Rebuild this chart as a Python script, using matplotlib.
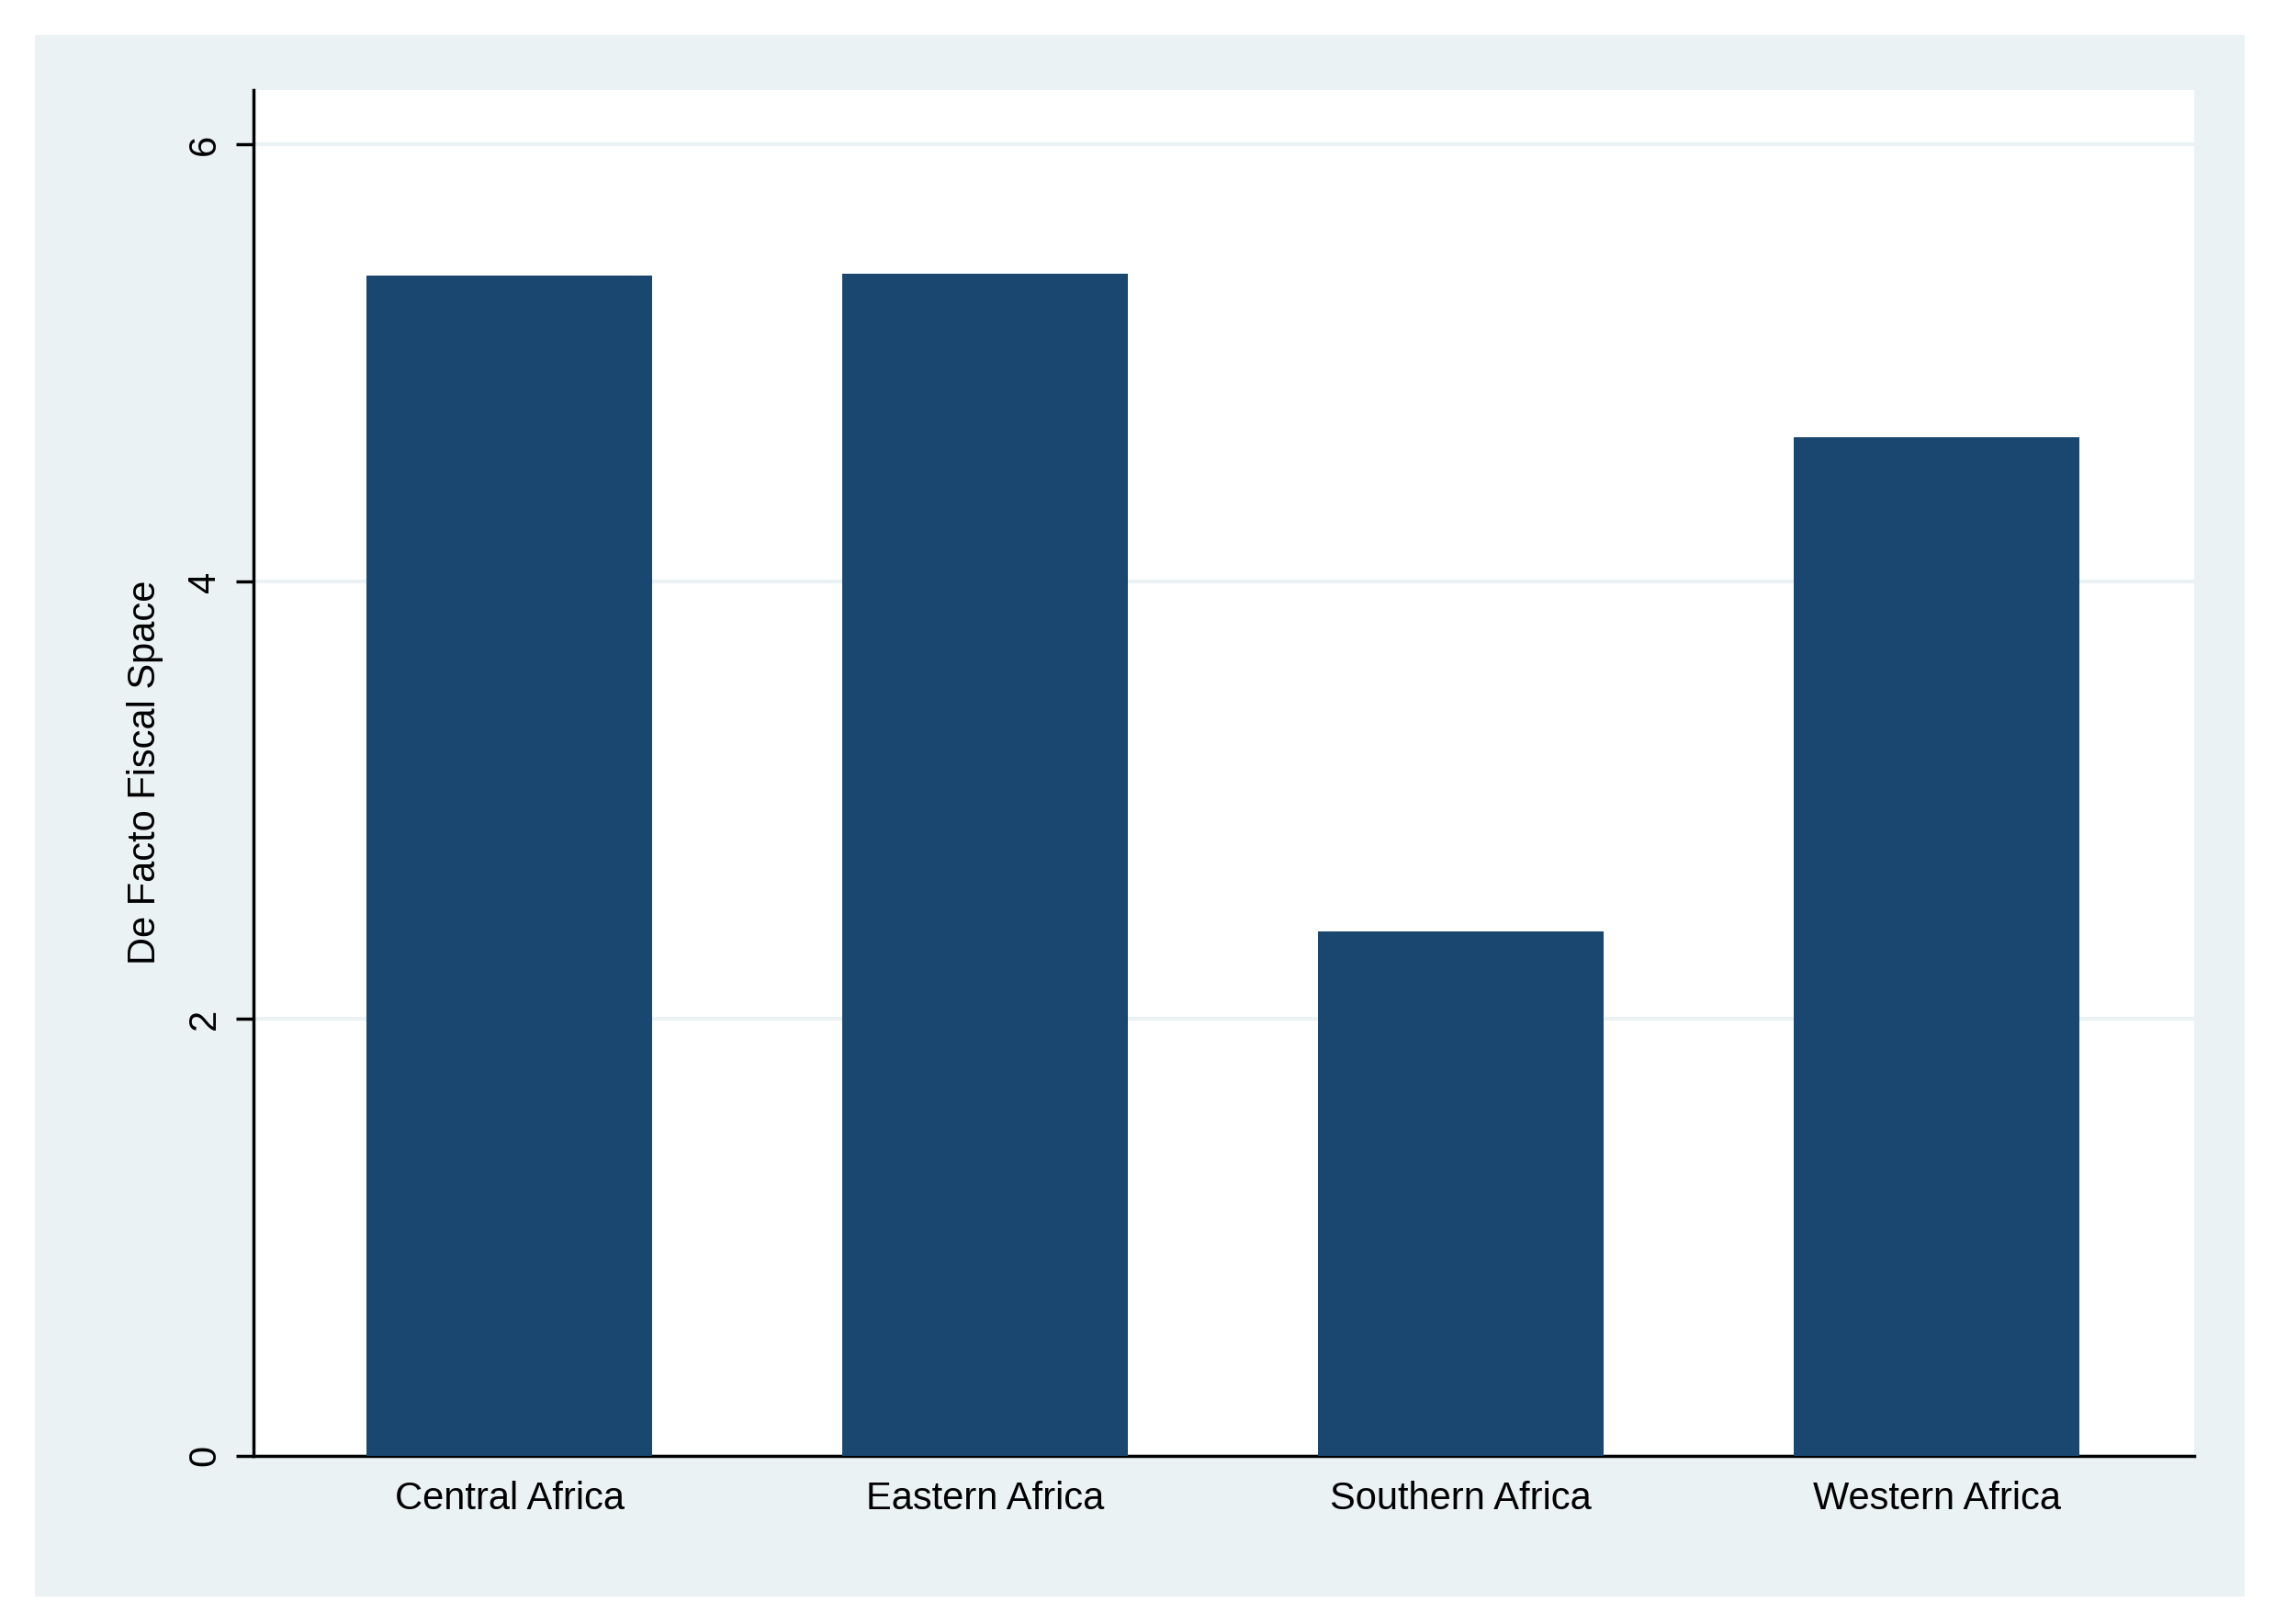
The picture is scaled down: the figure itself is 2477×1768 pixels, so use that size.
import matplotlib
matplotlib.use("Agg")
import matplotlib.pyplot as plt
import matplotlib.patches as patches

# [DATA]
regions = ["Central Africa", "Eastern Africa", "Southern Africa", "Western Africa"]
fiscal_space = [5.40, 5.41, 2.40, 4.66]
yticks = [0, 2, 4, 6]

plt.rcParams["font.family"] = ["Liberation Sans", "DejaVu Sans"]

fig = plt.figure(figsize=(24.77, 17.68), dpi=100)
fig.patch.set_facecolor("white")
# stata-style outer band, kept behind the axes
fig.patches.append(patches.Rectangle((0.0153, 0.017), 0.9713, 0.9616,
                                     transform=fig.transFigure, facecolor="#eaf2f3",
                                     edgecolor="none", zorder=-10))

ax = fig.add_axes([0.1116, 0.1037, 0.8527, 0.8409])
ax.set_facecolor("white")
pos = list(range(1, len(regions) + 1))
ax.bar(pos, fiscal_space, width=0.6, color="#1a476f", zorder=3)

ax.set_xlim(0.463, 4.54)
ax.set_ylim(0, 6.25)
ax.set_xticks(pos)
ax.set_xticklabels(regions, fontsize=30)
ax.set_yticks(yticks)
ax.set_yticklabels([str(t) for t in yticks], fontsize=30, rotation=90, va="center")
ax.tick_params(axis="x", length=0, pad=20)
ax.tick_params(axis="y", length=14, width=2.5, pad=10)
ax.set_ylabel("De Facto Fiscal Space", fontsize=30, labelpad=18)
ax.grid(axis="y", color="#eaf2f3", linewidth=3, zorder=0)
for s in ["top", "right"]:
    ax.spines[s].set_visible(False)
for s in ["left", "bottom"]:
    ax.spines[s].set_linewidth(2.5)

fig.savefig("out.png", dpi=100)
